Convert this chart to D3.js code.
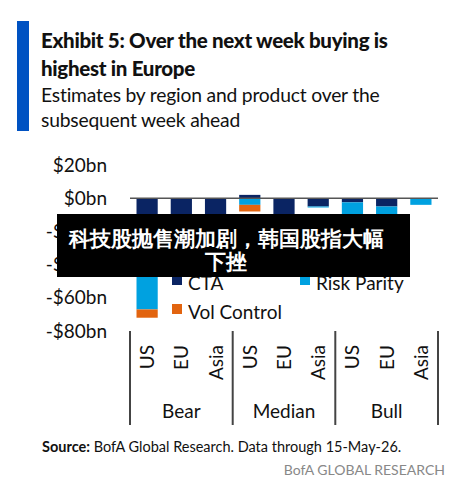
<!DOCTYPE html><html><head><meta charset="utf-8"><script src="https://cdn.jsdelivr.net/npm/d3@7"></script>
<style>body{margin:0;background:#fff}text{font-family:Lato,"Open Sans",sans-serif}</style></head><body><svg id="c" width="469" height="491"></svg>
<script>
const scenarios=["Bear","Median","Bull"];
const regions=["US","EU","Asia"];
const cta=[-22,-15,-12, 2,-12,-5, -2.5,-5,0];
const riskParity=[-45,0,0, -4,0,-0.6, -8,-7,-4];
const volControl=[-5,0,0, -4,0,0, 0,0,0];
const yTicks=[20,0,-20,-40,-60,-80];
const colors={cta:"#0a2463",rp:"#00a1e0",vol:"#e2640f"};
const svg=d3.select("#c");
svg.append("rect").attr("x",17).attr("y",21).attr("width",12).attr("height",110).attr("fill","#0052c2");
const t=[["Exhibit 5: Over the next week buying is",48,"900",20.5,"-0.3"],["highest in Europe",76,"900",20.5,"-0.3"],["Estimates by region and product over the",102,"normal",19.3,"-0.2"],["subsequent week ahead",127,"normal",19.3,"-0.2"]];
t.forEach(d=>svg.append("text").attr("x",41).attr("y",d[1]).attr("font-size",d[3]).attr("font-weight",d[2]).attr("fill","#111").attr("letter-spacing",d[4]).text(d[0]));
const cats=[];scenarios.forEach(s=>regions.forEach(r=>cats.push(s+"|"+r)));
const x=d3.scaleBand().domain(cats).range([130,438]).paddingInner(0.38).paddingOuter(0.19);
const y=d3.scaleLinear().domain([-80,20]).range([331,165]);
const ya=svg.append("g").attr("transform","translate(110,0)").call(d3.axisLeft(y).tickValues(yTicks).tickSize(0).tickFormat(d=>(d<0?"-":"")+"$"+Math.abs(d)+"bn"));
ya.select(".domain").remove();ya.selectAll("text").attr("font-size",19).attr("fill","#111").attr("font-family","Lato,sans-serif");
cats.forEach((c,i)=>{
  let pos=0,neg=0;
  [[cta[i],colors.cta],[riskParity[i],colors.rp],[volControl[i],colors.vol]].forEach(([v,col])=>{
    if(!v)return;let a,b;
    if(v>0){a=pos;b=pos+v;pos=b}else{a=neg;b=neg+v;neg=b}
    svg.append("rect").attr("x",x(c)).attr("width",x.bandwidth()).attr("y",y(Math.max(a,b))).attr("height",Math.abs(y(a)-y(b))).attr("fill",col);
  });
});
svg.append("line").attr("x1",130).attr("x2",438).attr("y1",y(0)).attr("y2",y(0)).attr("stroke","#555").attr("stroke-width",1.5);
[130,232.7,335.3,438].forEach(xx=>svg.append("line").attr("x1",xx).attr("x2",xx).attr("y1",331).attr("y2",425).attr("stroke","#444").attr("stroke-width",2));
cats.forEach(c=>{const r=c.split("|")[1];svg.append("text").attr("transform",`translate(${x(c)+x.bandwidth()/2+7},345) rotate(-90)`).attr("text-anchor","end").attr("font-size",19).attr("fill","#111").text(r)});
scenarios.forEach((s,i)=>svg.append("text").attr("x",130+102.7*i+51.3).attr("y",418).attr("text-anchor","middle").attr("font-size",19).attr("fill","#111").text(s));
const leg=[["CTA",colors.cta,172,283],["Risk Parity",colors.rp,300,283],["Vol Control",colors.vol,172,312]];
leg.forEach(l=>{svg.append("rect").attr("x",l[2]).attr("y",l[3]-8).attr("width",10).attr("height",10).attr("fill",l[1]);svg.append("text").attr("x",l[2]+16).attr("y",l[3]+7).attr("font-size",19).attr("fill","#111").text(l[0])});
const src=svg.append("text").attr("x",42).attr("y",452).attr("font-size",14.5).attr("fill","#111");
src.append("tspan").attr("font-weight","bold").text("Source:");src.append("tspan").text(" BofA Global Research.  Data through 15-May-26.");
svg.append("text").attr("x",445).attr("y",475).attr("text-anchor","end").attr("font-size",14).attr("fill","#888").text("BofA GLOBAL RESEARCH");
svg.append("rect").attr("x",57).attr("y",214).attr("width",353).attr("height",63).attr("fill","#000");
[["科技股抛售潮加剧，韩国股指大幅",246],["下挫",269]].forEach(d=>svg.append("text").attr("x",226).attr("y",d[1]).attr("text-anchor","middle").attr("font-size",20.5).attr("font-weight","bold").attr("fill","#fff").attr("font-family","'Noto Sans CJK SC',sans-serif").text(d[0]));
</script></body></html>
